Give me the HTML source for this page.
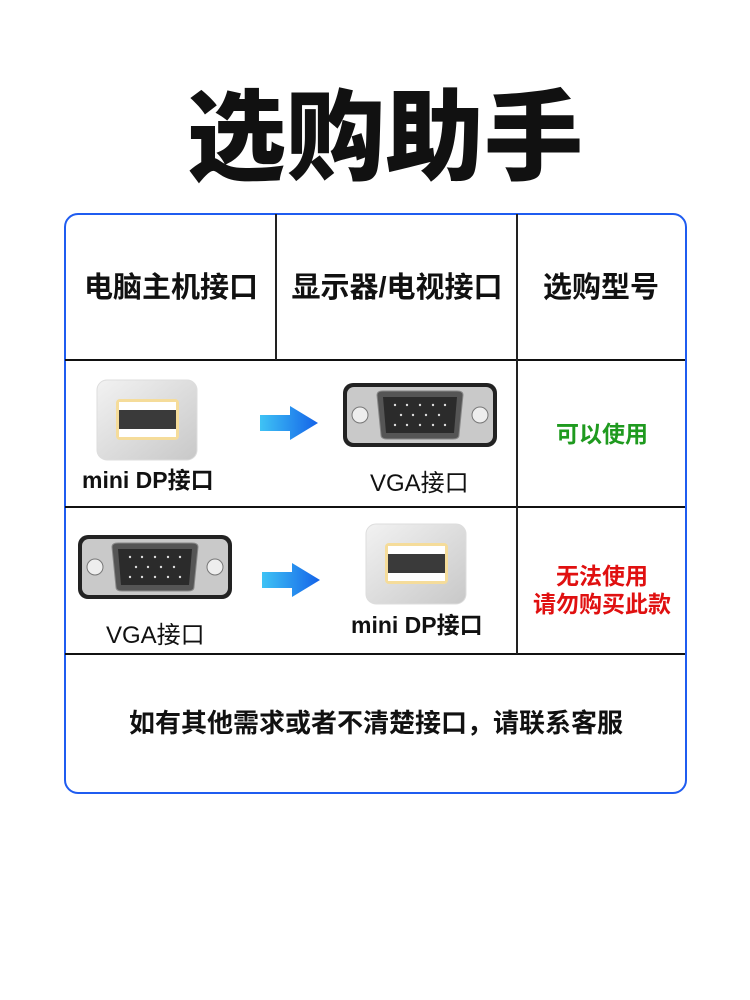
<!DOCTYPE html>
<html><head><meta charset="utf-8"><style>
body{margin:0;width:750px;height:1000px;background:#fff;position:relative;overflow:hidden;font-family:"Liberation Sans","Noto Sans CJK SC",sans-serif}
.a{position:absolute;white-space:nowrap}
.title{left:0;width:770px;text-align:center;top:78px;font-size:99px;font-weight:900;color:#111;line-height:120px}
.box{left:64px;top:213px;width:619px;height:577px;border:2px solid #1f5cf0;border-radius:14px}
.h{position:absolute;height:2px;background:#111;left:65px;width:620px}
.v{position:absolute;width:2px;background:#222}
.hd{font-size:29px;font-weight:700;color:#111;top:270px;text-align:center;line-height:36px}
.lb{font-size:23px;font-weight:700;color:#111}
.lr{font-size:24px;color:#111}
</style></head><body>
<div class="a title">选购助手</div>
<div class="a box"></div>
<div class="h" style="top:359px"></div>
<div class="h" style="top:506px"></div>
<div class="h" style="top:653px"></div>
<div class="v" style="left:275px;top:214px;height:146px"></div>
<div class="v" style="left:516px;top:214px;height:440px"></div>
<div class="a hd" style="left:66px;width:210px">电脑主机接口</div>
<div class="a hd" style="left:277px;width:240px">显示器/电视接口</div>
<div class="a hd" style="left:518px;width:166px">选购型号</div>

<svg class="a" style="left:0;top:0" width="750" height="1000">
<defs>
<linearGradient id="ar" x1="0" x2="1"><stop offset="0" stop-color="#3fc3f5"/><stop offset="1" stop-color="#1463e8"/></linearGradient>
<linearGradient id="dp" x1="0" y1="0" x2="1" y2="1"><stop offset="0" stop-color="#f2f2f2"/><stop offset="1" stop-color="#c8c8c8"/></linearGradient>
<g id="mdp">
<rect x="0" y="0" width="100" height="80" rx="10" fill="url(#dp)" stroke="#ddd"/>
<rect x="19" y="19" width="63" height="41" rx="4" fill="#f5dc9a"/>
<rect x="22" y="22" width="57" height="35" fill="#fff"/>
<rect x="22" y="30" width="57" height="19" fill="#3a3a3a"/>
</g>
<g id="vga">
<rect x="0" y="0" width="154" height="64" rx="10" fill="#222"/>
<rect x="4" y="4" width="146" height="56" rx="7" fill="#c9c9c9"/>
<circle cx="17" cy="32" r="8" fill="#eee" stroke="#777"/>
<circle cx="137" cy="32" r="8" fill="#eee" stroke="#777"/>
<path d="M34 12 Q34 8 40 8 H114 Q120 8 120 12 L116 52 Q116 56 110 56 H44 Q38 56 38 52 Z" fill="#555" stroke="#888"/>
<path d="M40 14 H114 L111 50 H43 Z" fill="#2b2b2b"/>
<g fill="#ddd"><circle cx="52" cy="22" r="1.2"/><circle cx="64" cy="22" r="1.2"/><circle cx="77" cy="22" r="1.2"/><circle cx="90" cy="22" r="1.2"/><circle cx="102" cy="22" r="1.2"/>
<circle cx="58" cy="32" r="1.2"/><circle cx="70" cy="32" r="1.2"/><circle cx="83" cy="32" r="1.2"/><circle cx="96" cy="32" r="1.2"/>
<circle cx="52" cy="42" r="1.2"/><circle cx="64" cy="42" r="1.2"/><circle cx="77" cy="42" r="1.2"/><circle cx="90" cy="42" r="1.2"/><circle cx="102" cy="42" r="1.2"/></g>
</g>
<path id="arw" d="M0 9 H30 V0 L58 17 L30 34 V25 H0 Z" fill="url(#ar)"/>
</defs>
<use href="#mdp" x="97" y="380"/>
<use href="#vga" x="343" y="383"/>
<use href="#arw" x="260" y="406"/>
<use href="#vga" x="78" y="535"/>
<use href="#arw" x="262" y="563"/>
<use href="#mdp" x="366" y="524"/>
</svg>

<div class="a lb" style="left:82px;top:461px">mini DP接口</div>
<div class="a lr" style="left:370px;top:463px">VGA接口</div>
<div class="a lr" style="left:106px;top:615px">VGA接口</div>
<div class="a lb" style="left:351px;top:606px">mini DP接口</div>
<div class="a" style="left:518px;width:168px;text-align:center;top:415px;font-size:23px;font-weight:700;color:#1f9a1f">可以使用</div>
<div class="a" style="left:518px;width:168px;text-align:center;top:562px;font-size:23px;font-weight:700;color:#e01010;line-height:28px">无法使用<br>请勿购买此款</div>
<div class="a" style="left:66px;width:620px;text-align:center;top:703px;font-size:26px;font-weight:700;color:#111">如有其他需求或者不清楚接口，请联系客服</div>
</body></html>
